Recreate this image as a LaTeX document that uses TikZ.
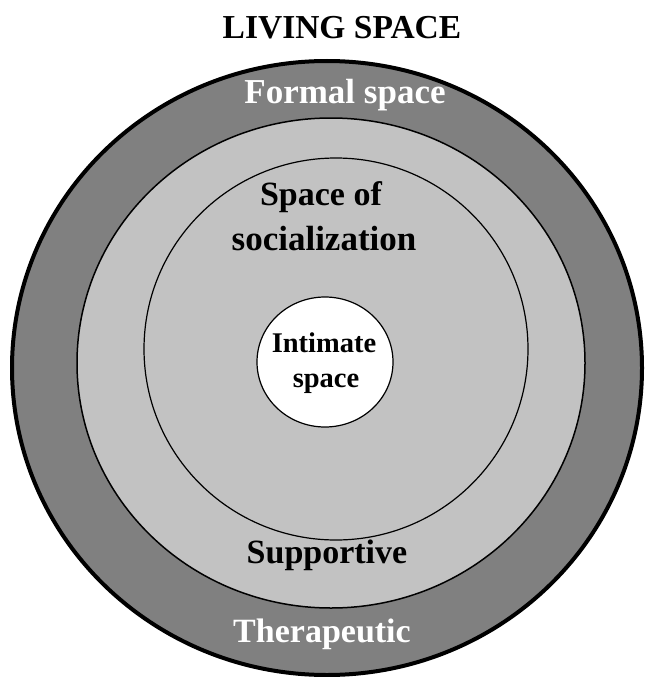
\documentclass[tikz,border=0pt]{standalone}
\usepackage{fontspec}
\setmainfont{Liberation Serif}
\usepackage{tikz}
\definecolor{darkring}{gray}{0.5}
\definecolor{lightring}{gray}{0.76}
\tikzstyle{ring} = [draw=black, line width=1.5pt]
\tikzstyle{blacktext} = [anchor=base, inner sep=0pt, text=black, font=\bfseries\fontsize{34}{34}\selectfont]
\tikzstyle{whitetext} = [blacktext, text=white]

\begin{document}
\begin{tikzpicture}[x=1pt, y=-1pt]
    \useasboundingbox (0,0) rectangle (645,677);
    \fill[white] (0,0) rectangle (645,677);
    \draw[ring, fill=darkring, line width=4pt] (327,368) ellipse (315 and 307);
    \draw[ring, fill=lightring] (331,363) ellipse (254 and 245);
    \draw[ring, line width=1.2pt] (336,349) ellipse (192 and 191);
    \draw[ring, fill=white, line width=1.2pt] (325,362) ellipse (68 and 65);
    \node[blacktext, font=\bfseries\fontsize{33.5}{34}\selectfont] (title) at (342,38) {LIVING SPACE};
    \node[whitetext, font=\bfseries\fontsize{35}{35}\selectfont] (formal) at (345,103) {Formal space};
    \node[blacktext] (space) at (321,205) {Space of};
    \node[blacktext, font=\bfseries\fontsize{35}{35}\selectfont] (social) at (324,250) {socialization};
    \node[blacktext, font=\bfseries\fontsize{28.5}{29}\selectfont] (intimate) at (324,352) {Intimate};
    \node[blacktext, font=\bfseries\fontsize{28.5}{29}\selectfont] (ispace) at (326,387) {space};
    \node[blacktext] (support) at (327,563) {Supportive};
    \node[whitetext] (thera) at (322,642) {Therapeutic};
\end{tikzpicture}
\end{document}
